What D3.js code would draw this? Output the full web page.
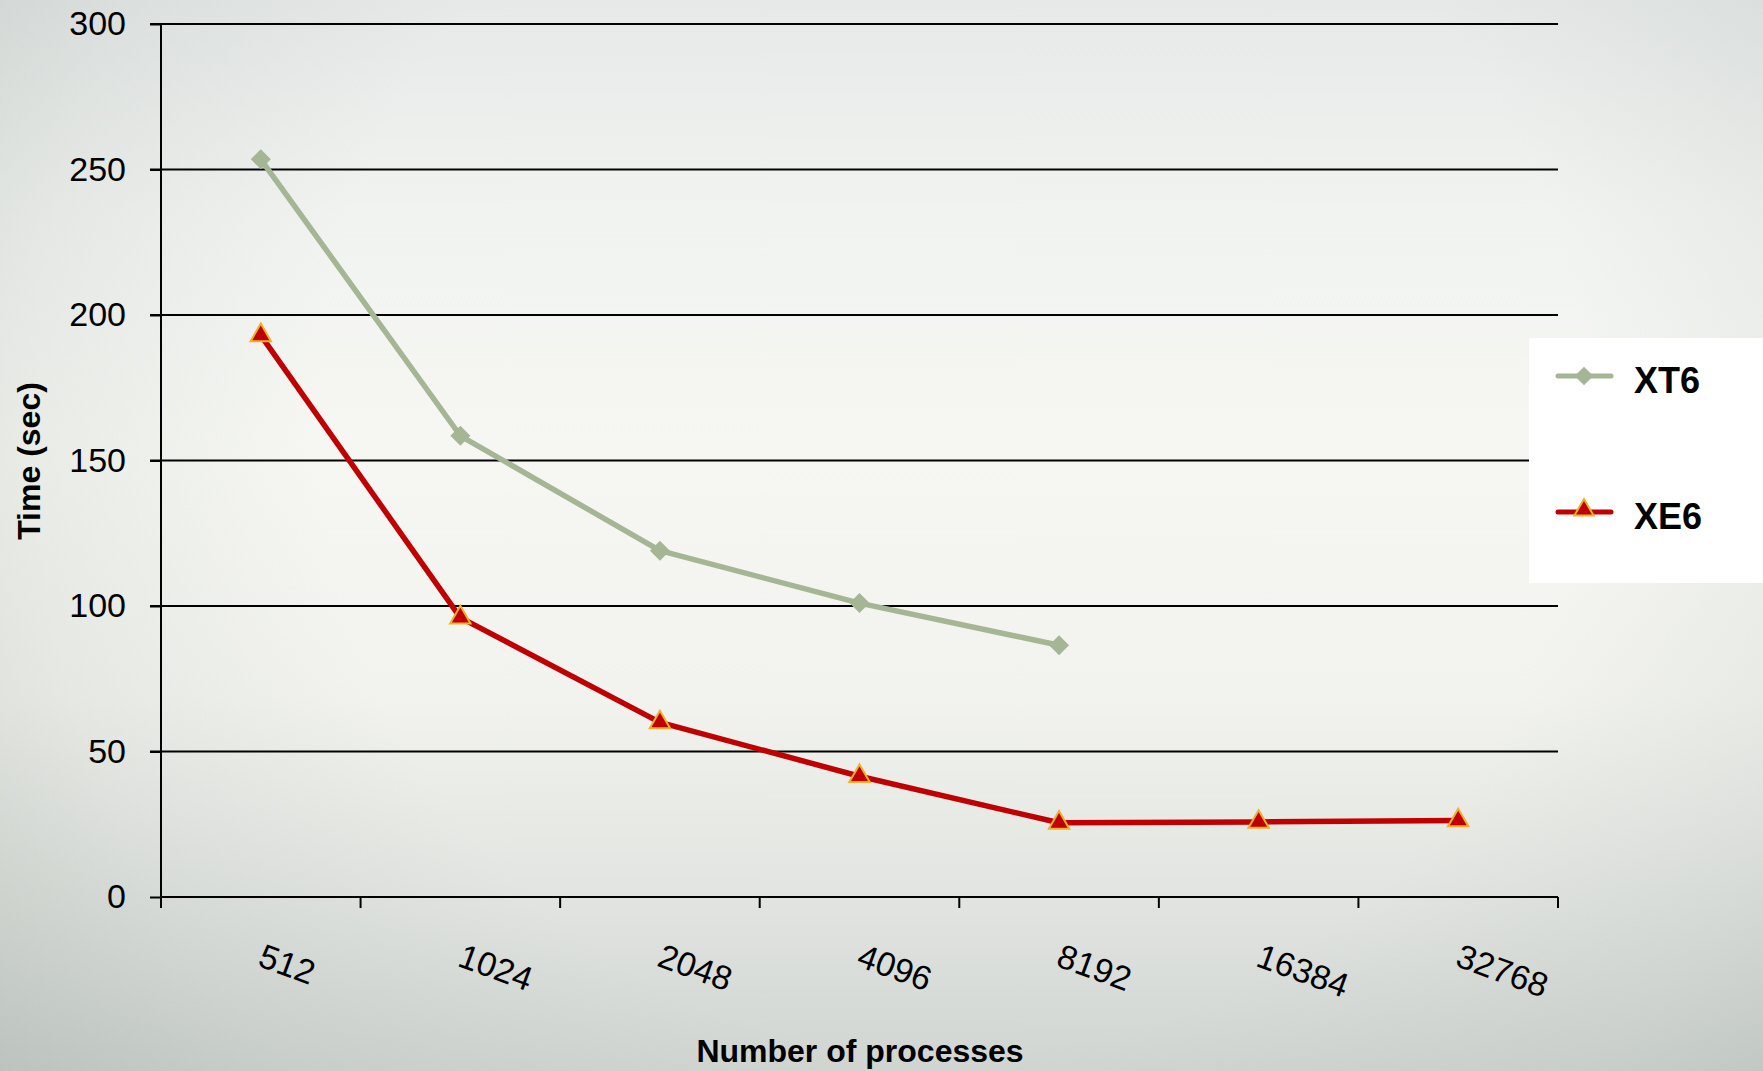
<!DOCTYPE html>
<html>
<head>
<meta charset="utf-8">
<script src="https://cdn.jsdelivr.net/npm/d3@7"></script>
<style>
html,body{margin:0;padding:0;overflow:hidden;}
svg{display:block;}
text{font-family:"Liberation Sans",Arial,sans-serif;}
</style>
</head>
<body>
<svg id="chart" width="1763" height="1071"></svg>
<script>
const categories = ["512","1024","2048","4096","8192","16384","32768"];
const xt6Values = [253.5, 158.5, 119, 101, 86.5];
const xe6Values = [193, 96, 60, 41.5, 25.5, 25.8, 26.3];
const yTicks = [0, 50, 100, 150, 200, 250, 300];
const seriesNames = ["XT6", "XE6"];
const xAxisTitle = "Number of processes";
const yAxisTitle = "Time (sec)";

(function () {
const W = 1763, H = 1071;
const svg = d3.select("#chart");

// background gradients
const defs = svg.append("defs");
const lgBg = defs.append("linearGradient").attr("id","bgv").attr("x1",0).attr("y1",0).attr("x2",0).attr("y2",1);
[["0%","#e6e9e8"],["20%","#f1f3f0"],["42%","#f6f7f3"],["65%","#f2f3ef"],["85%","#e0e3df"],["100%","#d0d5d1"]]
  .forEach(s => lgBg.append("stop").attr("offset", s[0]).attr("stop-color", s[1]));
const rg = defs.append("radialGradient").attr("id","bgr")
  .attr("gradientUnits","userSpaceOnUse")
  .attr("cx", 950).attr("cy", 420).attr("r", 1150);
rg.append("stop").attr("offset","0%").attr("stop-color","#8a968f").attr("stop-opacity",0);
rg.append("stop").attr("offset","55%").attr("stop-color","#8a968f").attr("stop-opacity",0);
rg.append("stop").attr("offset","80%").attr("stop-color","#8a968f").attr("stop-opacity",0.12);
rg.append("stop").attr("offset","100%").attr("stop-color","#8a968f").attr("stop-opacity",0.28);
svg.append("rect").attr("width",W).attr("height",H).attr("fill","url(#bgv)");
svg.append("rect").attr("width",W).attr("height",H).attr("fill","url(#bgr)");

const pLeft = 161, pRight = 1558, pTop = 24, pBottom = 897;
const x = d3.scaleBand().domain(categories).range([pLeft, pRight]).paddingInner(0).paddingOuter(0);
const y = d3.scaleLinear().domain([0, 300]).range([pBottom, pTop]);

// gridlines
svg.append("g").selectAll("line").data(yTicks.filter(d => d > 0)).join("line")
  .attr("x1", pLeft - 11).attr("x2", pRight)
  .attr("y1", d => y(d)).attr("y2", d => y(d))
  .attr("stroke", "#000").attr("stroke-width", 2);

// y axis
const yAxis = svg.append("g").attr("transform", `translate(${pLeft},0)`)
  .call(d3.axisLeft(y).tickValues(yTicks).tickSize(11).tickPadding(24));
yAxis.select(".domain").attr("stroke","#000").attr("stroke-width",2).attr("d", `M0,${pTop}V${pBottom}`);
yAxis.selectAll(".tick line").attr("stroke","#000").attr("stroke-width",2);
yAxis.selectAll(".tick text").attr("font-size", 34).attr("fill","#000")
  .attr("font-family", '"Liberation Sans",Arial,sans-serif');

// x axis line and ticks at band boundaries
const boundaries = categories.map(c => x(c)).concat([x(categories[categories.length-1]) + x.bandwidth()]);
svg.append("line").attr("x1", pLeft).attr("x2", pRight).attr("y1", pBottom).attr("y2", pBottom)
  .attr("stroke","#000").attr("stroke-width",2);
svg.append("g").selectAll("line").data(boundaries).join("line")
  .attr("x1", d => d).attr("x2", d => d).attr("y1", pBottom).attr("y2", pBottom + 11)
  .attr("stroke","#000").attr("stroke-width",2);

// x tick labels (rotated)
svg.append("g").selectAll("text").data(categories).join("text")
  .attr("transform", d => `translate(${x(d) + x.bandwidth()/2 + 4},943) rotate(20)`)
  .attr("x", 0).attr("y", 24)
  .attr("font-size", 34).attr("fill","#000")
  .text(d => d);

// axis titles
svg.append("text").attr("transform", "translate(40,461) rotate(-90)")
  .attr("text-anchor","middle").attr("font-size", 32).attr("font-weight","bold")
  .attr("fill","#000").text(yAxisTitle);
svg.append("text").attr("x", 860).attr("y", 1062)
  .attr("text-anchor","middle").attr("font-size", 32).attr("font-weight","bold")
  .attr("fill","#000").text(xAxisTitle);

const green = "#A4B693", red = "#C00000", tri = "#EDB12A";
const cx = (i) => x(categories[i]) + x.bandwidth()/2;

const line = d3.line().x((d,i) => cx(i)).y(d => y(d));

// XT6
svg.append("path").datum(xt6Values).attr("d", line)
  .attr("fill","none").attr("stroke", green).attr("stroke-width", 5.5)
  .attr("stroke-linejoin","round");
const diamond = d3.symbol().type(d3.symbolSquare).size(200);
svg.append("g").selectAll("path").data(xt6Values).join("path")
  .attr("d", diamond)
  .attr("transform", (d,i) => `translate(${cx(i)},${y(d)}) rotate(45)`)
  .attr("fill", green);

// XE6
svg.append("path").datum(xe6Values).attr("d", line)
  .attr("fill","none").attr("stroke", red).attr("stroke-width", 5.5)
  .attr("stroke-linejoin","round");
const triangle = d3.symbol().type(d3.symbolTriangle).size(180);
svg.append("g").selectAll("path").data(xe6Values).join("path")
  .attr("d", triangle)
  .attr("transform", (d,i) => `translate(${cx(i)},${y(d)})`)
  .attr("fill", red).attr("stroke", tri).attr("stroke-width", 2);

// legend
svg.append("rect").attr("x", 1529).attr("y", 338).attr("width", 234).attr("height", 245).attr("fill","#fff");
const legY = [376, 512];
const lg = svg.append("g");
seriesNames.forEach((name, i) => {
  const col = i === 0 ? green : red;
  lg.append("line").attr("x1", 1558).attr("x2", 1611).attr("y1", legY[i]).attr("y2", legY[i])
    .attr("stroke", col).attr("stroke-width", 5).attr("stroke-linecap","round");
  if (i === 0) {
    lg.append("path").attr("d", d3.symbol().type(d3.symbolSquare).size(170))
      .attr("transform", `translate(1584,${legY[i]}) rotate(45)`).attr("fill", green);
  } else {
    lg.append("path").attr("d", d3.symbol().type(d3.symbolTriangle).size(160))
      .attr("transform", `translate(1584,${legY[i] - 2})`).attr("fill", red)
      .attr("stroke", tri).attr("stroke-width", 2);
  }
  lg.append("text").attr("x", 1634).attr("y", legY[i] + 17)
    .attr("font-size", 36).attr("font-weight","bold").attr("fill","#000").text(name);
});
})();
</script>
</body>
</html>
